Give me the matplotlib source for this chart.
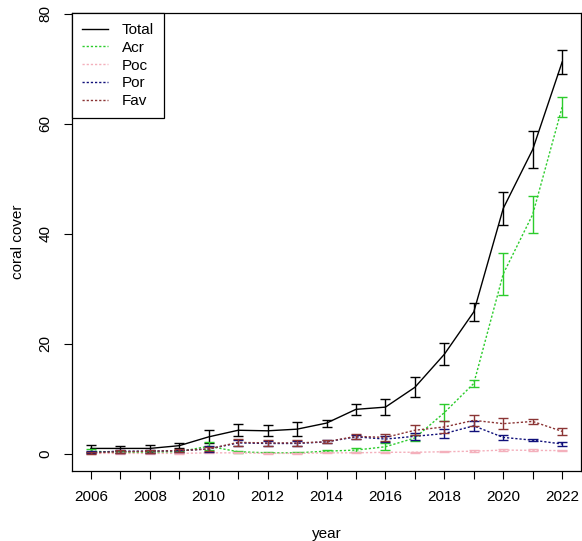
import matplotlib
matplotlib.use("Agg")
import matplotlib.pyplot as plt

plt.rcParams["font.family"] = ["Liberation Sans", "DejaVu Sans"]

years = list(range(2006, 2023))

total = [1.0, 1.0, 1.0, 1.5, 3.1, 4.3, 4.2, 4.5, 5.6, 8.1, 8.5, 12.1, 18.1, 25.8, 44.6, 55.3, 71.2]
total_se = [0.7, 0.4, 0.6, 0.4, 1.2, 1.1, 1.0, 1.3, 0.65, 1.0, 1.45, 1.8, 2.0, 1.7, 3.0, 3.3, 2.1]

acr = [0.5, 0.3, 0.3, 0.4, 1.4, 0.4, 0.2, 0.2, 0.5, 0.7, 1.3, 2.9, 7.5, 12.8, 32.7, 43.5, 63.0]
acr_se = [0.4, 0.2, 0.2, 0.2, 0.7, 0.2, 0.1, 0.1, 0.2, 0.3, 0.6, 0.6, 1.5, 0.6, 3.8, 3.4, 1.8]

poc = [0.1, 0.1, 0.1, 0.1, 0.2, 0.2, 0.1, 0.1, 0.2, 0.2, 0.3, 0.3, 0.4, 0.5, 0.7, 0.65, 0.6]
poc_se = [0.1, 0.05, 0.05, 0.05, 0.1, 0.1, 0.05, 0.05, 0.1, 0.1, 0.1, 0.1, 0.1, 0.15, 0.2, 0.2, 0.15]

por = [0.3, 0.5, 0.5, 0.6, 0.9, 2.0, 1.9, 1.9, 2.2, 3.1, 2.7, 3.2, 3.7, 5.1, 3.0, 2.5, 1.8]
por_se = [0.2, 0.3, 0.3, 0.2, 0.5, 0.5, 0.5, 0.5, 0.3, 0.4, 0.5, 0.6, 0.8, 0.9, 0.5, 0.2, 0.4]

fav = [0.2, 0.4, 0.5, 0.6, 0.9, 2.1, 2.0, 2.0, 2.2, 3.2, 3.0, 4.3, 4.9, 6.1, 5.5, 5.9, 4.1]
fav_se = [0.2, 0.3, 0.3, 0.3, 0.4, 0.6, 0.6, 0.6, 0.3, 0.4, 0.6, 0.9, 1.1, 1.0, 1.0, 0.5, 0.6]

dotted = (0, (1.6, 1.4))
series = [
    ("Total", total, total_se, "black", "-"),
    ("Acr", acr, acr_se, "#2ccc2c", dotted),
    ("Poc", poc, poc_se, "#f4b0bc", dotted),
    ("Por", por, por_se, "#10107a", dotted),
    ("Fav", fav, fav_se, "#8b3535", dotted),
]

fig = plt.figure(figsize=(5.82, 5.41), dpi=100)
ax = fig.add_axes([0.1237, 0.1294, 0.8746, 0.8466])

handles = []
for name, vals, se, col, ls in series:
    line, = ax.plot(years, vals, color=col, linestyle=ls, linewidth=1.0, label=name)
    ax.errorbar(years, vals, yerr=se, fmt="none", ecolor=col, elinewidth=1.0,
                capsize=3.3, capthick=1.0)
    handles.append(line)

ax.set_xlim(2005.36, 2022.64)
ax.set_ylim(-3.1, 80.1)
ax.set_xticks(years)
ax.set_xticklabels([str(y) if y % 2 == 0 else "" for y in years])
ax.set_yticks([0, 20, 40, 60, 80])
ax.set_yticklabels(["0", "20", "40", "60", "80"], rotation=90, va="center")
ax.tick_params(direction="out", length=6, width=0.8, labelsize=11, pad=8)

for sp in ax.spines.values():
    sp.set_linewidth(0.9)

ax.set_xlabel("year", fontsize=11, labelpad=16)
ax.set_ylabel("coral cover", fontsize=11, labelpad=10)

leg = ax.legend(handles=handles, loc="upper left", fontsize=11, borderaxespad=0,
                fancybox=False, framealpha=1, edgecolor="black", handlelength=1.7,
                handletextpad=0.9, labelspacing=0.25, borderpad=0.65)
leg.get_frame().set_linewidth(0.9)

fig.savefig("out.png", dpi=100)
